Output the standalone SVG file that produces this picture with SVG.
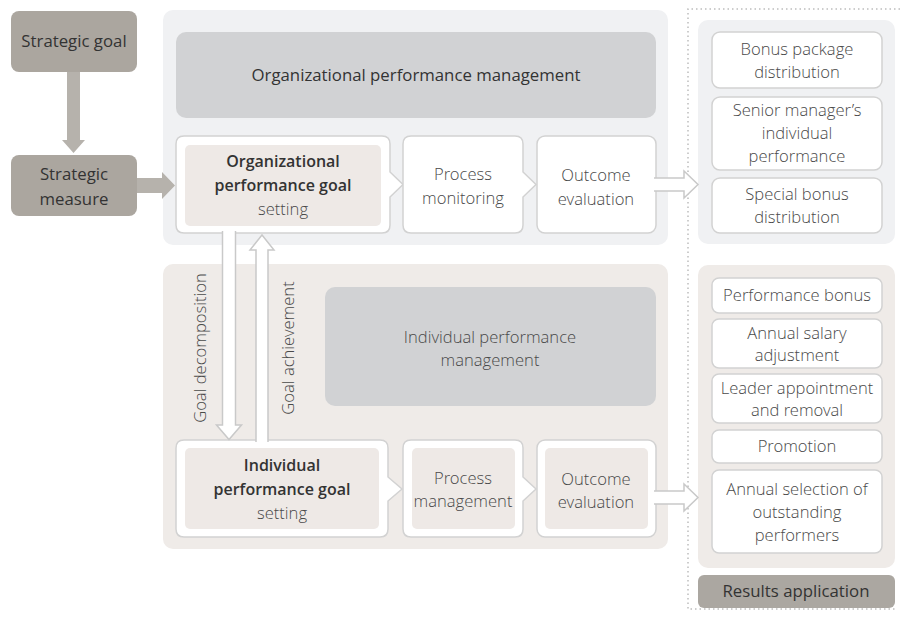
<svg xmlns="http://www.w3.org/2000/svg" width="900" height="618" viewBox="0 0 900 618">
<defs>
<style>
text{font-family:"Open Sans","Liberation Sans",sans-serif;font-size:16px;text-anchor:middle;}
.lt{font-family:"Open Sans Light","Open Sans","Liberation Sans",sans-serif;font-weight:300;font-size:16.6px;fill:#4a4a4a;}
.sb{font-weight:600;fill:#333;}
.rg{font-weight:400;fill:#333;font-size:16.8px;}
.strat{fill:#aba69f;}
.solidarrow{fill:#b6b2ac;}
.cont-g{fill:#f0f1f3;}
.cont-w{fill:#efebe8;}
.dark{fill:#d1d2d4;}
.wbox{fill:#fff;stroke:#d2d2d2;stroke-width:1.5;}
.inner{fill:#eee9e6;}
.harrow{fill:#fff;stroke:#c9c9c9;stroke-width:1.5;stroke-linejoin:miter;}
.dots{fill:none;stroke:#bdbdbd;stroke-width:1.5;stroke-dasharray:1.5 3;}
</style>
</defs>
<rect width="900" height="618" fill="#fff"/>

<path class="dots" d="M900,9 H688 V609 H896"/>

<g id="strategic-goal">
<rect class="strat" x="11" y="11" width="126" height="61" rx="8"/>
<text class="rg" x="74" y="47">Strategic goal</text>
</g>
<g id="strategic-measure">
<rect class="strat" x="11" y="155" width="126" height="61" rx="8"/>
<text class="rg" x="74" y="180">Strategic</text>
<text class="rg" x="74" y="205">measure</text>
</g>

<g id="org-container">
<rect class="cont-g" x="163" y="10" width="505" height="235" rx="10"/>
</g>
<g id="org-management">
<rect class="dark" x="176" y="32" width="480" height="86" rx="10"/>
<text class="rg" x="416" y="81">Organizational performance management</text>
</g>
<g id="org-goal-setting">
<path class="wbox" d="M184,136 H382 Q390,136 390,144 V172 L403,184.5 L390,197 V225 Q390,233 382,233 H184 Q176,233 176,225 V144 Q176,136 184,136 Z"/>
<rect class="inner" x="185" y="145" width="196" height="81" rx="5"/>
<text class="sb" x="283" y="167">Organizational</text>
<text class="sb" x="283" y="191">performance goal</text>
<text class="lt" x="283" y="215">setting</text>
</g>
<g id="process-monitoring">
<path class="wbox" d="M411,136 H515 Q523,136 523,144 V172 L536,184.5 L523,197 V225 Q523,233 515,233 H411 Q403,233 403,225 V144 Q403,136 411,136 Z"/>
<text class="lt" x="463" y="180">Process</text>
<text class="lt" x="463" y="204">monitoring</text>
</g>
<g id="org-outcome-evaluation">
<rect class="wbox" x="537" y="136" width="119" height="97" rx="8"/>
<text class="lt" x="596" y="181">Outcome</text>
<text class="lt" x="596" y="205">evaluation</text>
</g>

<g id="ind-container">
<rect class="cont-w" x="163" y="264" width="505" height="285" rx="10"/>
</g>
<g id="ind-management">
<rect class="dark" x="325" y="287" width="331" height="119" rx="10"/>
<text class="lt" x="490" y="343">Individual performance</text>
<text class="lt" x="490" y="366">management</text>
</g>
<g id="ind-goal-setting">
<path class="wbox" d="M184,440 H380 Q388,440 388,448 V477 L402,489 L388,501 V529 Q388,537 380,537 H184 Q176,537 176,529 V448 Q176,440 184,440 Z"/>
<rect class="inner" x="185" y="448" width="194" height="81" rx="5"/>
<text class="sb" x="282" y="471">Individual</text>
<text class="sb" x="282" y="495">performance goal</text>
<text class="lt" x="282" y="519">setting</text>
</g>
<g id="process-management">
<path class="wbox" d="M411,440 H515 Q523,440 523,448 V477 L536,489 L523,501 V529 Q523,537 515,537 H411 Q403,537 403,529 V448 Q403,440 411,440 Z"/>
<rect class="inner" x="412" y="448" width="103" height="81" rx="5"/>
<text class="lt" x="463" y="484">Process</text>
<text class="lt" x="463" y="507">management</text>
</g>
<g id="ind-outcome-evaluation">
<rect class="wbox" x="537" y="440" width="119" height="97" rx="8"/>
<rect class="inner" x="545" y="448" width="103" height="81" rx="5"/>
<text class="lt" x="596" y="485">Outcome</text>
<text class="lt" x="596" y="508">evaluation</text>
</g>

<g id="results-org">
<rect class="cont-g" x="698" y="20" width="197" height="224" rx="10"/>
<rect class="wbox" x="712" y="32" width="170" height="56" rx="8"/>
<text class="lt" x="797" y="55">Bonus package</text>
<text class="lt" x="797" y="78">distribution</text>
<rect class="wbox" x="712" y="97" width="170" height="73" rx="8"/>
<text class="lt" x="797" y="116">Senior manager’s</text>
<text class="lt" x="797" y="139">individual</text>
<text class="lt" x="797" y="162">performance</text>
<rect class="wbox" x="712" y="178" width="170" height="55" rx="8"/>
<text class="lt" x="797" y="200">Special bonus</text>
<text class="lt" x="797" y="223">distribution</text>
</g>

<g id="results-ind">
<rect class="cont-w" x="698" y="265" width="197" height="303" rx="10"/>
<rect class="wbox" x="712" y="278" width="170" height="35" rx="7"/>
<text class="lt" x="797" y="301">Performance bonus</text>
<rect class="wbox" x="712" y="319" width="170" height="49" rx="7"/>
<text class="lt" x="797" y="339">Annual salary</text>
<text class="lt" x="797" y="361">adjustment</text>
<rect class="wbox" x="712" y="374" width="170" height="49" rx="7"/>
<text class="lt" x="797" y="394">Leader appointment</text>
<text class="lt" x="797" y="416">and removal</text>
<rect class="wbox" x="712" y="430" width="170" height="33" rx="7"/>
<text class="lt" x="797" y="452">Promotion</text>
<rect class="wbox" x="712" y="470" width="170" height="83" rx="7"/>
<text class="lt" x="797" y="495">Annual selection of</text>
<text class="lt" x="797" y="518">outstanding</text>
<text class="lt" x="797" y="541">performers</text>
</g>

<g id="results-application">
<rect fill="#aba7a1" x="698" y="575" width="197" height="33" rx="6"/>
<text class="rg" x="796" y="597">Results application</text>
</g>

<g id="connectors">
<path class="solidarrow" d="M67,72 H80 V140 H85 L73.5,153 L62,140 H67 Z"/>
<path class="solidarrow" d="M137,178 H162 V172 L175,185.5 L162,199 V193 H137 Z"/>
<path class="harrow" d="M654,178 H684 V171 L698,184.5 L684,198 V191 H654"/>
<path class="harrow" d="M654,491 H684 V484 L698,497.5 L684,511 V504 H654"/>
<path class="harrow" d="M222.5,231 V425 H216.5 L229,439.5 L241.5,425 H235.5 V231"/>
<path class="harrow" d="M256,442 V250 H250 L262,235 L274,250 H268 V442"/>
<text class="lt" transform="translate(206,348) rotate(-90)">Goal decomposition</text>
<text class="lt" transform="translate(294,348) rotate(-90)">Goal achievement</text>
</g>
</svg>
